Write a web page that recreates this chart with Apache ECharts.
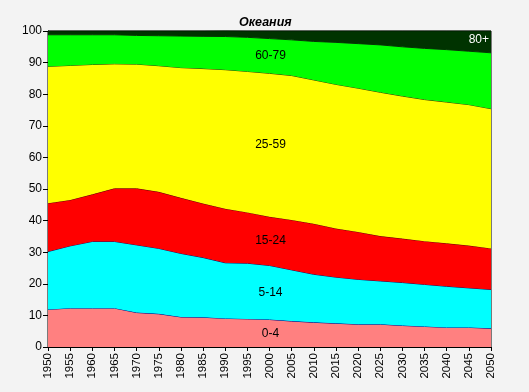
<!DOCTYPE html>
<html><head><meta charset="utf-8">
<script src="https://cdn.jsdelivr.net/npm/echarts@6/dist/echarts.min.js"></script>
<style>html,body{margin:0;padding:0;background:#f3f3f3}#c{width:529px;height:392px}</style>
</head><body><div id="c"></div>
<script>
const years = ['1950','1955','1960','1965','1970','1975','1980','1985','1990','1995','2000','2005','2010','2015','2020','2025','2030','2035','2040','2045','2050'];
const seriesNames = ['0-4','5-14','15-24','25-59','60-79','80+'];
const age0_4   = [11.9,12.3,12.3,12.3,10.9,10.5,9.5,9.4,9.05,8.9,8.7,8.2,7.8,7.5,7.2,7.2,6.8,6.5,6.2,6.2,5.9];
const age5_14  = [18.3,19.7,21.1,21.1,21.4,20.7,20.1,18.9,17.6,17.6,17.1,16.2,15.2,14.6,14.2,13.7,13.6,13.3,13.0,12.5,12.3];
const age15_24 = [15.3,14.5,14.9,16.8,17.9,17.9,17.6,17.1,17.1,16.1,15.4,15.8,16.0,15.4,15.0,14.2,13.9,13.7,13.6,13.4,13.0];
const age25_59 = [43.3,42.6,41.1,39.4,39.3,39.9,41.2,42.7,44.0,44.6,45.4,45.7,45.5,45.6,45.5,45.5,45.1,44.8,44.7,44.6,44.2];
const age60_79 = [10.0,9.7,9.4,9.2,9.1,9.5,10.0,10.2,10.5,10.8,11.0,11.3,12.2,13.3,14.1,15.0,15.6,16.2,16.6,16.9,17.7];
const age80    = [1.2,1.2,1.2,1.2,1.4,1.5,1.6,1.7,1.8,2.0,2.4,2.8,3.3,3.6,4.0,4.4,5.0,5.5,5.9,6.4,6.9];
const yTicks = [0,10,20,30,40,50,60,70,80,90,100];

const data = [age0_4, age5_14, age15_24, age25_59, age60_79, age80];
const fills = ['#ff8080','#00ffff','#ff0000','#ffff00','#00ff00','#003300'];
const lines = ['#000080','#101060','#700000','#404000','#004000','#002000'];
const font = '"Liberation Sans", Arial, sans-serif';

const chart = echarts.init(document.getElementById('c'), null, {renderer:'canvas'});
chart.setOption({
  backgroundColor: '#f3f3f3',
  animation: false,
  title: {text: 'Океания', left: 234, top: 11, textStyle: {fontFamily: font, fontSize: 12.5, fontWeight: 'bold', fontStyle: 'italic', color: '#000'}},
  grid: {left: 48, right: 38, top: 31, bottom: 45, show: true, borderColor: '#000', borderWidth: 1, backgroundColor: 'transparent'},
  xAxis: {type: 'category', data: years, boundaryGap: false,
    axisLine: {lineStyle: {color: '#000', width: 1}},
    axisTick: {show: true, length: 4, lineStyle: {color: '#000'}, alignWithLabel: true},
    axisLabel: {rotate: 90, interval: 0, fontFamily: font, fontSize: 11.5, color: '#000', margin: 6},
    splitLine: {show: false}},
  yAxis: {type: 'value', min: 0, max: 100, interval: 10,
    axisLine: {show: true, lineStyle: {color: '#000', width: 1}},
    axisTick: {show: true, length: 5, lineStyle: {color: '#000'}},
    axisLabel: {fontFamily: font, fontSize: 12, color: '#000', margin: 6, formatter: v => yTicks.includes(v) ? String(v) : ''},
    splitLine: {show: false}},
  series: data.map((d, i) => ({
    name: seriesNames[i], type: 'line', stack: 'total', data: d, symbol: 'none',
    lineStyle: {color: lines[i], width: 1}, areaStyle: {color: fills[i], opacity: 1},
    itemStyle: {color: fills[i]}, z: 2 + i
  }))
});

// band labels placed at the middle of each band for year 2000 (and 2050 for 80+)
const graphics = [];
const idx = 10;
let cum = 0;
for (let i = 0; i < 5; i++) {
  const lo = cum; cum += data[i][idx];
  const p = chart.convertToPixel({xAxisIndex: 0, yAxisIndex: 0}, [years[idx], (lo + cum) / 2]);
  graphics.push({type: 'text', x: p[0] + 1, y: p[1], z: 100,
    style: {text: seriesNames[i], fontFamily: font, fontSize: 12, fill: '#000', align: 'center', verticalAlign: 'middle'}});
}
let cumEnd = 0;
for (let i = 0; i < 5; i++) cumEnd += data[i][20];
const pe = chart.convertToPixel({xAxisIndex: 0, yAxisIndex: 0}, [years[20], (cumEnd + 100) / 2]);
graphics.push({type: 'text', x: pe[0] - 2, y: pe[1] - 2, z: 100,
  style: {text: '80+', fontFamily: font, fontSize: 12, fill: '#fff', align: 'right', verticalAlign: 'middle'}});
chart.setOption({graphic: graphics});
</script></body></html>
